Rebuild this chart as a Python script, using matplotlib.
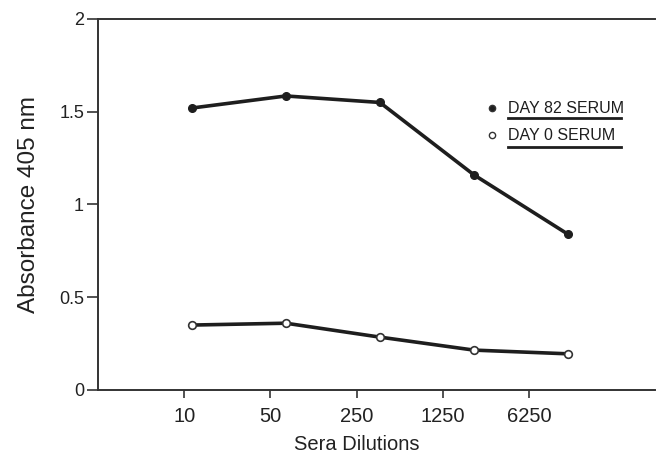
import numpy as np
import matplotlib.pyplot as plt

plt.rcParams['font.family'] = ['Liberation Sans', 'DejaVu Sans']

dilutions = ['10', '50', '250', '1250', '6250']
day82 = [1.52, 1.585, 1.55, 1.16, 0.84]
day0 = [0.35, 0.36, 0.285, 0.215, 0.195]

x = np.arange(len(dilutions))

fig = plt.figure(figsize=(6.59, 4.53), dpi=100)
ax = fig.add_axes([0.1487, 0.1391, 0.845, 0.819])

ink = '#1e1e1e'
ax.plot(x, day82, color=ink, lw=2.6, marker='o', ms=5.5, mfc=ink, mec=ink, zorder=3)
ax.plot(x, day0, color=ink, lw=2.6, marker='o', ms=5.5, mfc='white', mec='#333333', mew=1.2, zorder=3)

ax.set_xlim(-1.0, 4.926)
ax.set_ylim(0, 2)
ax.set_xticks([])
ax.set_yticks([0, 0.5, 1, 1.5, 2])
ax.set_yticklabels(['0', '0.5', '1', '1.5', '2'])
ax.tick_params(axis='y', direction='out', length=8, width=1.2, pad=2, labelsize=13, colors='#333333', labelcolor='#222222')
ax.set_ylabel('Absorbance 405 nm', fontsize=17.5, color='#222222')
ax.yaxis.set_label_coords(-0.104, 0.5)

for s in ['left', 'top', 'bottom']:
    ax.spines[s].set_linewidth(1.4)
    ax.spines[s].set_color('#333333')
ax.spines['right'].set_visible(False)

# tick labels sit on their own scale in the original figure
ax2 = ax.twiny()
ax2.set_xlim(-1.0, 5.46)
ax2.xaxis.set_ticks_position('bottom')
ax2.xaxis.set_label_position('bottom')
ax2.set_xticks(x)
ax2.set_xticklabels(dilutions)
ax2.tick_params(axis='x', direction='out', length=6, width=1.2, pad=6, labelsize=14.5, colors='#333333', labelcolor='#222222')
for s in ['left', 'top', 'bottom', 'right']:
    ax2.spines[s].set_visible(False)
ax2.set_xlabel('Sera Dilutions', fontsize=14.5, color='#222222')
ax2.xaxis.set_label_coords(0.465, -0.122)

# legend
labels = ['DAY 82 SERUM', 'DAY 0 SERUM']
fills = [ink, 'white']
for i, (lab, fc) in enumerate(zip(labels, fills)):
    yy = 0.760 - i * 0.073
    ax.plot([0.7073], [yy], transform=ax.transAxes, marker='o', ms=4.5, mfc=fc, mec='#333333', mew=1.0, ls='none', clip_on=False)
    ax.text(0.7362, yy, lab, transform=ax.transAxes, fontsize=11.5, va='center', ha='left', color='#1e1e1e')
    ax.plot([0.7362, 0.9390], [yy - 0.026 - i * 0.006, yy - 0.026 - i * 0.006], transform=ax.transAxes, color=ink, lw=2.0, clip_on=False)

fig.savefig('out.png', dpi=100)
